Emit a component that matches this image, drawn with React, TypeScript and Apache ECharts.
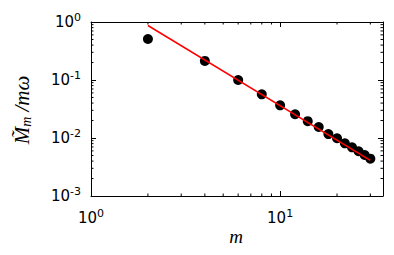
import React, { useEffect, useRef } from "react";
import * as echarts from "echarts";

const mValues = [2, 4, 6, 8, 10, 12, 14, 16, 18, 20, 22, 24, 26, 28, 30];
const mMass = [0.51, 0.213, 0.1, 0.0566, 0.0366, 0.0257, 0.0195, 0.0155, 0.0117, 0.0099, 0.0081, 0.0069, 0.0059, 0.0051, 0.0044];
const fitX = [2, 30];
const fitY = [0.87, 0.0041];
const xMinorTicks = [2, 3, 4, 5, 6, 7, 8, 9, 20, 30];
const yMinorTicks = [
  0.002, 0.003, 0.004, 0.005, 0.006, 0.007, 0.008, 0.009,
  0.02, 0.03, 0.04, 0.05, 0.06, 0.07, 0.08, 0.09,
  0.2, 0.3, 0.4, 0.5, 0.6, 0.7, 0.8, 0.9,
];
const X_MIN = 1, X_MAX = 35, Y_MIN = 0.001, Y_MAX = 1;

const labelRich = {
  b: { fontSize: 15, fontFamily: "DejaVu Sans", color: "#000", lineHeight: 18 },
  s: { fontSize: 11, fontFamily: "DejaVu Sans", color: "#000", padding: [0, 0, 9, 0] },
};
const fmt = (v: number) => {
  const e = Math.log10(v);
  if (Math.abs(e - Math.round(e)) > 1e-6) return "";
  return `{b|10}{s|${Math.round(e)}}`;
};

export default function App() {
  const ref = useRef<HTMLDivElement>(null);
  useEffect(() => {
    const chart = echarts.init(ref.current!, null, { renderer: "svg" });
    const axisLine = { show: true, onZero: false, lineStyle: { color: "#000", width: 1 } };
    const tick = { show: true, inside: true, length: 5, lineStyle: { color: "#000", width: 1 } };
    chart.setOption({
      animation: false,
      grid: { left: 91, top: 22, right: 11, bottom: 59, containLabel: false },
      xAxis: [
        {
          type: "log", logBase: 10, min: X_MIN, max: X_MAX, position: "bottom",
          axisLine, axisTick: tick, splitLine: { show: false },
          axisLabel: { formatter: fmt, rich: labelRich, margin: 12 },
        },
        {
          type: "log", logBase: 10, min: X_MIN, max: X_MAX, position: "top",
          axisLine, axisTick: tick, splitLine: { show: false }, axisLabel: { show: false },
        },
      ],
      yAxis: [
        {
          type: "log", logBase: 10, min: Y_MIN, max: Y_MAX, position: "left",
          axisLine, axisTick: tick, splitLine: { show: false },
          axisLabel: { formatter: fmt, rich: labelRich, margin: 10 },
        },
        {
          type: "log", logBase: 10, min: Y_MIN, max: Y_MAX, position: "right",
          axisLine, axisTick: tick, splitLine: { show: false }, axisLabel: { show: false },
        },
      ],
      graphic: [
        {
          type: "text", x: 236, y: 236, style: {
            text: "m", font: "italic 19px 'Liberation Serif'", fill: "#000",
            align: "center", verticalAlign: "middle",
          },
        },
        {
          type: "text", x: 22, y: 110, rotation: Math.PI / 2,
          style: {
            text: "{a|M\u0303}{s|m}{a| /mω}",
            align: "center", verticalAlign: "middle",
            rich: {
              a: { font: "italic 21px 'Liberation Serif'", fill: "#000", lineHeight: 24 },
              s: { font: "italic 14px 'Liberation Serif'", fill: "#000", padding: [8, 0, 0, 0] },
            },
          },
        },
      ],
      series: [
        {
          type: "custom", xAxisIndex: 0, yAxisIndex: 0, silent: true, clip: false,
          data: xMinorTicks.map((v) => [v, Y_MIN]),
          renderItem: (_p: any, api: any) => {
            const v = api.value(0);
            const b = api.coord([v, Y_MIN]);
            const t = api.coord([v, Y_MAX]);
            const st = { stroke: "#000", lineWidth: 1 };
            return {
              type: "group",
              children: [
                { type: "line", shape: { x1: b[0], y1: b[1], x2: b[0], y2: b[1] - 2.5 }, style: st },
                { type: "line", shape: { x1: t[0], y1: t[1], x2: t[0], y2: t[1] + 2.5 }, style: st },
              ],
            };
          },
        },
        {
          type: "custom", xAxisIndex: 0, yAxisIndex: 0, silent: true, clip: false,
          data: yMinorTicks.map((v) => [X_MIN, v]),
          renderItem: (_p: any, api: any) => {
            const v = api.value(1);
            const l = api.coord([X_MIN, v]);
            const r = api.coord([X_MAX, v]);
            const st = { stroke: "#000", lineWidth: 1 };
            return {
              type: "group",
              children: [
                { type: "line", shape: { x1: l[0], y1: l[1], x2: l[0] + 2.5, y2: l[1] }, style: st },
                { type: "line", shape: { x1: r[0], y1: r[1], x2: r[0] - 2.5, y2: r[1] }, style: st },
              ],
            };
          },
        },
        {
          type: "scatter", xAxisIndex: 0, yAxisIndex: 0,
          data: mValues.map((m, i) => [m, mMass[i]]),
          symbol: "circle", symbolSize: 10,
          itemStyle: { color: "#000", opacity: 1 }, z: 3,
        },
        {
          type: "line", xAxisIndex: 0, yAxisIndex: 0,
          data: fitX.map((m, i) => [m, fitY[i]]),
          symbol: "none", lineStyle: { color: "#ff0000", width: 1.5 }, z: 4,
        },
      ],
    });
    return () => chart.dispose();
  }, []);
  return (
    <div
      ref={ref}
      style={{ position: "fixed", left: 0, top: 0, width: 394, height: 255, background: "#fff" }}
    />
  );
}
